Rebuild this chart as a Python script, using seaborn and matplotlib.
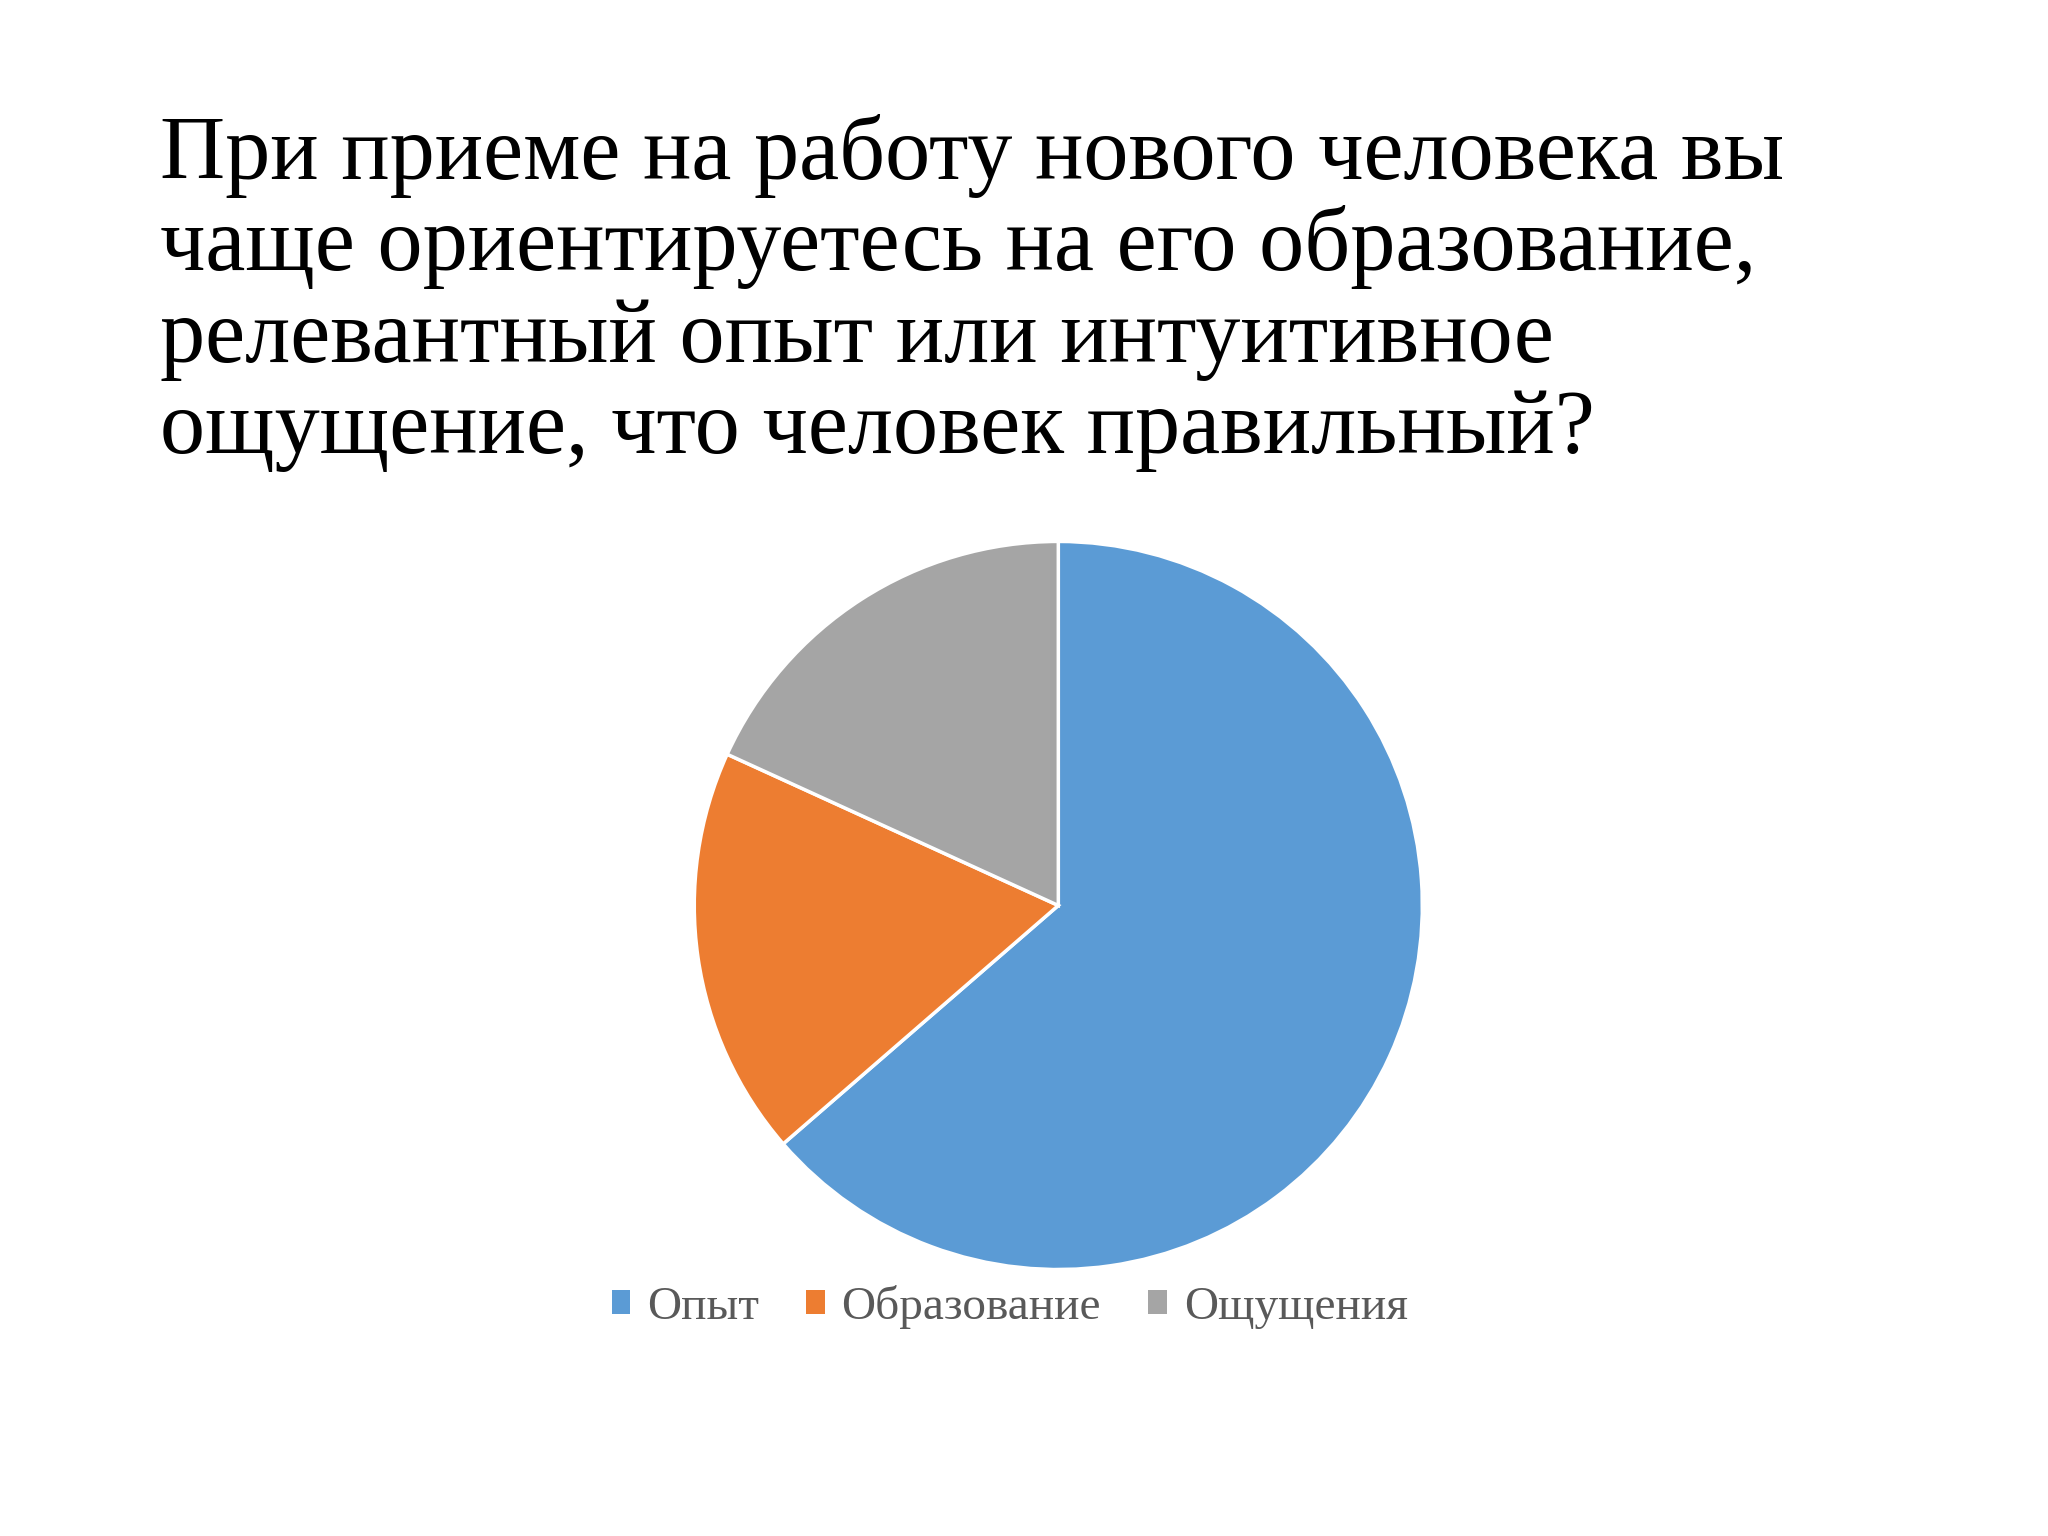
import matplotlib
matplotlib.use("Agg")
import matplotlib.pyplot as plt
import matplotlib.patches as mpatches
import seaborn as sns

# survey answers
labels = ['Опыт', 'Образование', 'Ощущения']
counts = [7, 2, 2]
title_lines = ['При приеме на работу нового человека вы',
               'чаще ориентируетесь на его образование,',
               'релевантный опыт или интуитивное',
               'ощущение, что человек правильный?']

sns.set_theme(style='white')
plt.rcParams['font.family'] = ['Liberation Serif', 'DejaVu Serif']
colors = sns.color_palette(['#5B9BD5', '#ED7D31', '#A5A5A5'])

fig = plt.figure(figsize=(20.48, 15.36), dpi=100)
fig.patch.set_facecolor('white')

# title, one line each so the spacing matches the slide
baselines = [179, 270, 362, 453]
for line, yb in zip(title_lines, baselines):
    fig.text(0.078, 1 - yb / 1536, line, fontsize=65, color='black',
             va='baseline', ha='left')

ax = fig.add_axes([0.3390, 0.1735, 0.3555, 0.474])
wedges, _ = ax.pie(counts, colors=colors, startangle=90, counterclock=False,
                   wedgeprops=dict(edgecolor='white', linewidth=2.5))
ax.set_xlim(-1.0, 1.0)
ax.set_ylim(-1.0, 1.0)
ax.set_aspect('equal')
ax.axis('off')

handles = [mpatches.Patch(facecolor=c, edgecolor='none') for c in colors]
leg = fig.legend(handles, labels, loc='center', bbox_to_anchor=(0.493, 0.149),
                 ncol=3, frameon=False, fontsize=34, handlelength=0.4,
                 handleheight=0.4, handletextpad=0.35, columnspacing=1.0)
for t in leg.get_texts():
    t.set_color('#595959')

fig.savefig('out.png', dpi=100, facecolor='white')
